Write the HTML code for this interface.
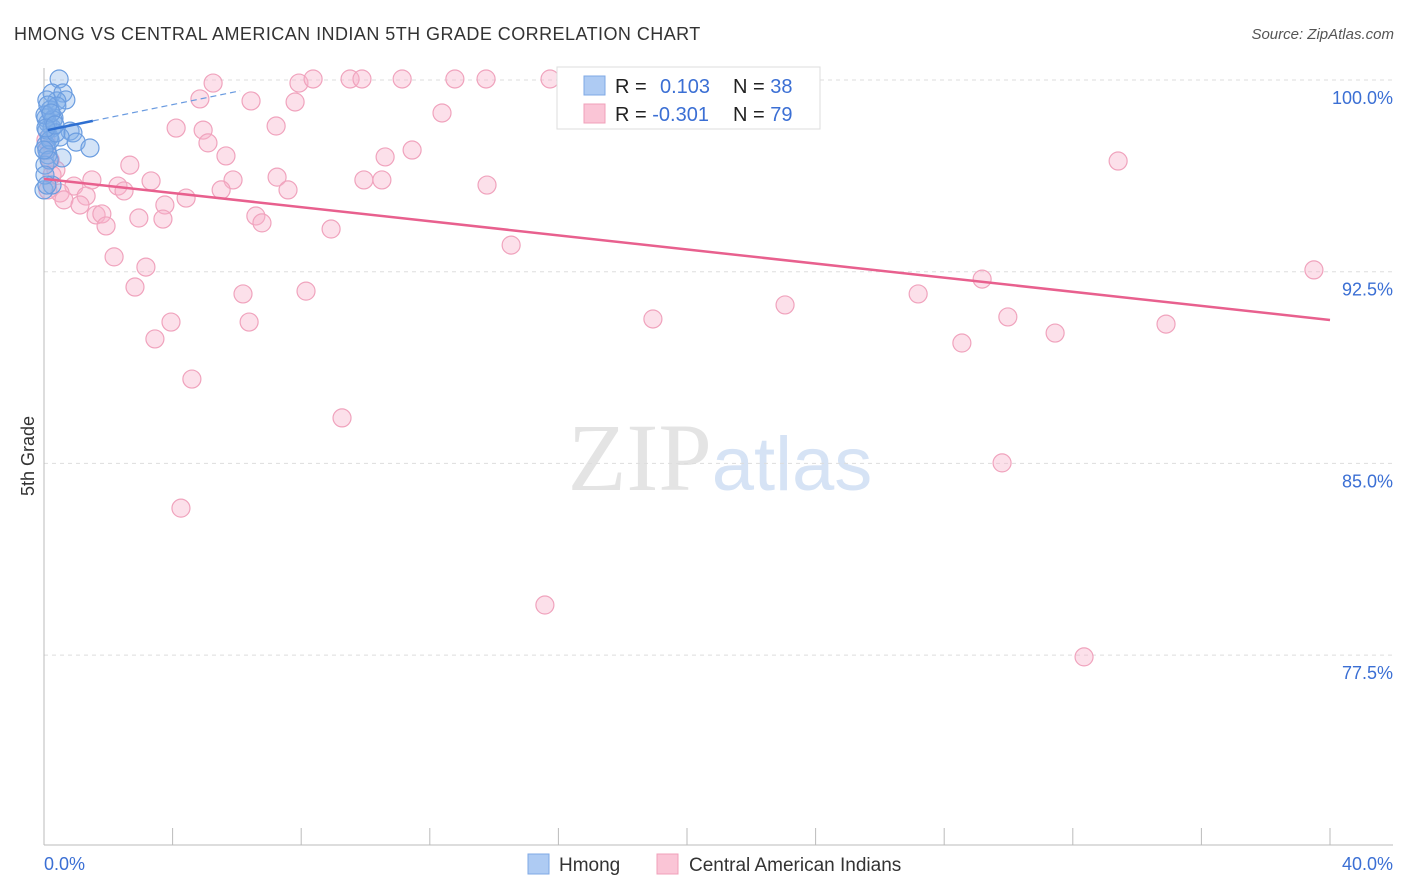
<!DOCTYPE html>
<html><head><meta charset="utf-8"><style>
body{margin:0;background:#fff;font-family:"Liberation Sans",sans-serif;}
svg{display:block}
</style></head><body>
<svg width="1406" height="892" xmlns="http://www.w3.org/2000/svg">
<text x="14" y="40" font-size="18" fill="#333" letter-spacing="0.45">HMONG VS CENTRAL AMERICAN INDIAN 5TH GRADE CORRELATION CHART</text>
<text x="1394" y="39" font-size="15" fill="#555" text-anchor="end" font-style="italic">Source: ZipAtlas.com</text>
<text x="720" y="490" font-size="96" fill="#e4e4e4" text-anchor="middle" font-family="Liberation Serif">ZIP<tspan fill="#d6e3f5" font-family="Liberation Sans" font-size="76">atlas</tspan></text>
<text transform="translate(34,456) rotate(-90)" font-size="18" fill="#333" text-anchor="middle">5th Grade</text>
<g id="grid"></g><g id="axes"></g><g id="pts"></g><g id="lines"></g>
<g>
<rect x="557" y="67" width="263" height="62" fill="#fff" stroke="#ddd"/>
<rect x="584" y="76" width="21" height="19" fill="#aecbf3" stroke="#7fa8e6"/>
<rect x="584" y="104" width="21" height="19" fill="#fac5d6" stroke="#f0a0ba"/>
<text x="615" y="93" font-size="20" fill="#222">R = <tspan fill="#3b6fd4" x="660">0.103</tspan><tspan x="733" fill="#222">N = </tspan><tspan fill="#3b6fd4">38</tspan></text>
<text x="615" y="121" font-size="20" fill="#222">R = <tspan fill="#3b6fd4">-0.301</tspan><tspan x="733" fill="#222">N = </tspan><tspan fill="#3b6fd4">79</tspan></text>
</g>
<g>
<rect x="528" y="854" width="21" height="20" fill="#aecbf3" stroke="#7fa8e6"/>
<text x="559" y="871" font-size="19" fill="#333">Hmong</text>
<rect x="657" y="854" width="21" height="20" fill="#fac5d6" stroke="#f0a0ba"/>
<text x="689" y="871" font-size="19" fill="#333">Central American Indians</text>
</g>
</svg>
<script>
const yTicks=[100,92.5,85,77.5];
const yTickLabels=["100.0%","92.5%","85.0%","77.5%"];
const xTickLabels=["0.0%","40.0%"];
const pinkX=[5.26,7.93,8.37,9.52,9.89,11.14,12.78,13.75,15.74,18.16,22.27,4.85,6.44,7.81,12.38,7.22,4.11,4.95,5.10,5.66,10.61,11.45,2.67,33.41,0.37,3.33,5.88,7.25,9.95,10.51,13.78,1.49,2.30,0.93,5.51,7.59,2.49,0.50,1.31,0.62,4.42,3.76,1.12,1.62,1.80,2.95,3.70,6.59,6.78,1.93,8.93,14.53,2.18,3.17,29.18,39.50,2.83,6.19,8.15,27.19,23.05,3.95,6.38,18.94,29.98,34.90,3.45,31.45,28.55,4.60,9.27,29.80,4.26,15.58,32.35,0.09,0.19,0.06,0.25,0.12];
const pinkY=[99.88,99.88,100.04,100.04,100.04,100.04,100.04,100.04,100.04,100.04,100.04,99.26,99.18,99.14,98.71,98.20,98.12,98.04,97.54,97.03,96.99,97.26,96.67,96.83,96.48,96.05,96.09,96.20,96.09,96.09,95.89,96.09,95.85,95.85,95.70,95.70,95.66,95.58,95.46,95.31,95.38,95.11,95.11,94.72,94.76,94.60,94.56,94.68,94.41,94.29,94.17,93.54,93.08,92.68,92.21,92.57,91.90,91.63,91.74,91.63,91.20,90.53,90.53,90.65,90.73,90.45,89.87,90.10,89.71,88.30,86.78,85.02,83.25,79.46,77.43,97.26,96.87,97.65,96.28,95.70];
const blueX=[0.47,0.25,0.59,0.68,0.40,0.09,0.19,0.31,0.06,0.12,0.25,0.81,0.90,0.50,0.16,1.00,1.43,0.09,0.56,0.06,0.12,0.03,0.00,0.25,0.09,0.19,0.40,0.03,0.28,0.12,0.37,0.16,0.03,0.09,0.22,0.00,0.06,0.34];
const blueY=[100.04,99.49,99.49,99.22,99.18,99.22,98.83,98.51,98.51,98.32,98.12,98.00,97.93,97.77,97.77,97.57,97.34,97.26,96.95,97.46,97.07,96.67,95.70,95.89,98.04,97.65,98.98,98.63,98.44,99.02,97.93,96.87,96.28,95.89,98.71,97.26,98.12,98.24];
const pinkTrend=[96.13,90.61];
const blueTrend=[98.01,0.257];
const NS="http://www.w3.org/2000/svg";
const xs=v=>44+v/40*1286, ys=v=>80+(100-v)/7.5*191.7;
function mk(t,a,p){const e=document.createElementNS(NS,t);for(const k in a)e.setAttribute(k,a[k]);document.getElementById(p).appendChild(e);return e;}
yTicks.forEach((t,i)=>{
 const l=mk('line',{x1:44,x2:1393,y1:ys(t),y2:ys(t),stroke:'#ddd','stroke-dasharray':'4,4'},'grid');
 
 
 const tx=mk('text',{x:1393,y:ys(t)+24,'font-size':18,fill:'#3b6fd4','text-anchor':'end'},'grid');
 tx.textContent=yTickLabels[i];
 
 
});
mk('line',{x1:44,x2:44,y1:68,y2:845,stroke:'#bbb'},'axes');
mk('line',{x1:44,x2:1393,y1:845,y2:845,stroke:'#bbb'},'axes');
for(let i=1;i<=10;i++){const l=mk('line',{x1:xs(i*4),x2:xs(i*4),y1:828,y2:845,stroke:'#bbb'},'axes');
 
 }
[[0,44,'start'],[1,1393,'end']].forEach(([i,x,a])=>{const t=mk('text',{x:x,y:870,'font-size':18,fill:'#3b6fd4','text-anchor':a},'axes');t.textContent=xTickLabels[i];
 
 });
pinkX.forEach((v,i)=>{const c=mk('circle',{cx:xs(v),cy:ys(pinkY[i]),r:9,fill:'rgba(247,178,202,0.4)',stroke:'#f0a3bd','stroke-width':1.2},'pts');
 
 });
blueX.forEach((v,i)=>{const c=mk('circle',{cx:xs(v),cy:ys(blueY[i]),r:9,fill:'rgba(130,175,232,0.35)',stroke:'#6b9de0','stroke-width':1.2},'pts');
 
 });
const pl=mk('line',{x1:xs(0),y1:ys(pinkTrend[0]),x2:xs(40),y2:ys(pinkTrend[1]),stroke:'#e8608e','stroke-width':2.5},'lines');


const bl=mk('line',{x1:xs(0.12),y1:ys(blueTrend[0]+blueTrend[1]*0.12),x2:xs(1.52),y2:ys(blueTrend[0]+blueTrend[1]*1.52),stroke:'#2e6fd1','stroke-width':2.5},'lines');


const bd=mk('line',{x1:xs(1.52),y1:ys(blueTrend[0]+blueTrend[1]*1.52),x2:xs(6.1),y2:ys(blueTrend[0]+blueTrend[1]*6.1),stroke:'#6a9be0','stroke-width':1.2,'stroke-dasharray':'6,4'},'lines');


</script>
</body></html>
